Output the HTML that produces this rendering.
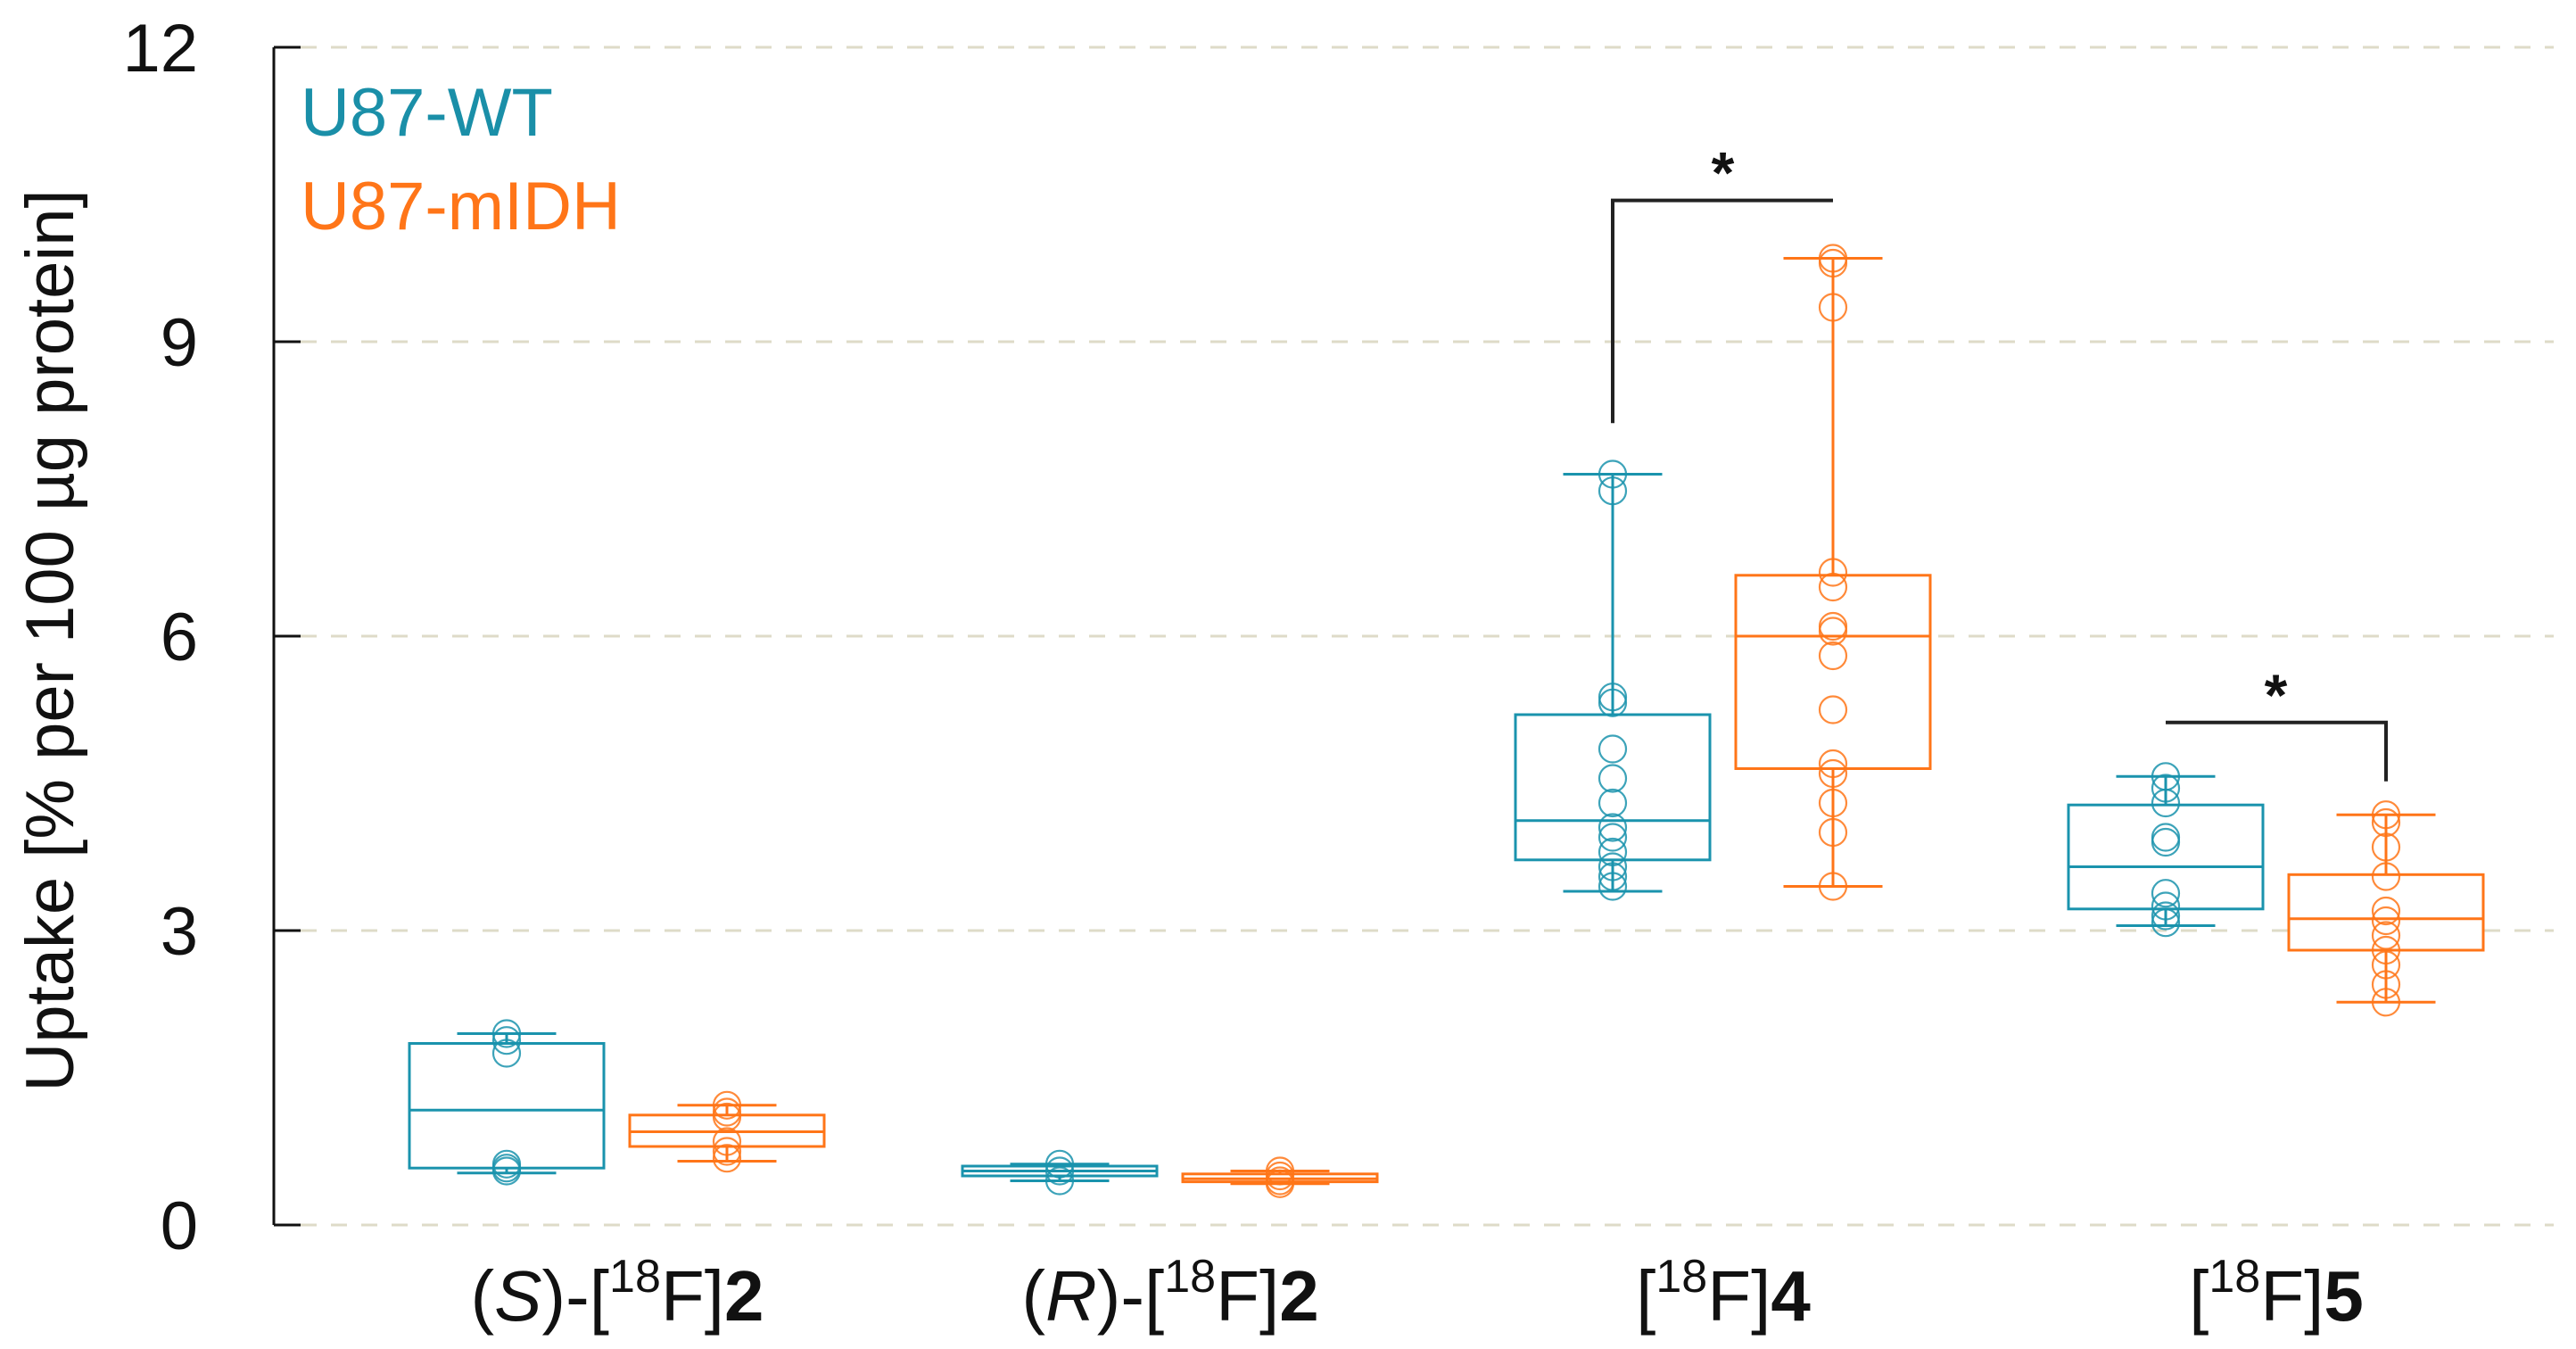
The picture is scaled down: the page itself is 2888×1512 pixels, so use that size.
<!DOCTYPE html>
<html><head><meta charset="utf-8"><style>
html,body{margin:0;padding:0;background:#fff}
svg{display:block}
text{font-family:"Liberation Sans",sans-serif}
</style></head><body>
<svg id="chart" width="2888" height="1512" viewBox="0 0 2888 1512" xmlns="http://www.w3.org/2000/svg">
<g id="grid"></g>
<g id="marks"></g>
<g id="axes"></g>
<text transform="translate(82,718) rotate(-90)" text-anchor="middle" font-size="76" fill="#111">Uptake [% per 100 µg protein]</text>
<text x="337" y="152" font-size="76" fill="#1a8fa8">U87-WT</text>
<text x="337" y="257" font-size="76" fill="#ff7518">U87-mIDH</text>
</svg>
<script>
const categories = ["S2","R2","F4","F5"];
const groupNames = ["U87-WT","U87-mIDH"];
const yTicks = [0,3,6,9,12];
// box stats per group: [whiskerLow, q1, median, q3, whiskerHigh]
const wtStats = [[0.53,0.58,1.17,1.85,1.95],[0.45,0.5,0.55,0.6,0.62],[3.4,3.72,4.12,5.2,7.65],[3.05,3.22,3.65,4.28,4.57]];
const midhStats = [[0.65,0.8,0.95,1.12,1.22],[0.42,0.44,0.47,0.52,0.55],[3.45,4.65,6.0,6.62,9.85],[2.27,2.8,3.12,3.57,4.18]];
const wtPoints = [[1.95,1.88,1.75,0.62,0.58,0.55],[0.62,0.55,0.45],[7.65,7.48,5.38,5.32,4.85,4.55,4.3,4.05,3.95,3.8,3.65,3.55,3.45],[4.57,4.45,4.3,3.95,3.9,3.38,3.25,3.15,3.08]];
const midhPoints = [[1.22,1.15,1.1,0.85,0.75,0.68],[0.55,0.5,0.45,0.42],[9.85,9.8,9.35,6.65,6.5,6.1,6.05,5.8,5.25,4.7,4.6,4.3,4.0,3.45],[4.18,4.1,3.85,3.55,3.2,3.1,2.95,2.8,2.65,2.45,2.27]];
// significance brackets: [categoryIndex, bracketTop, wtEnd, midhEnd]
const sigBrackets = [[2,10.44,8.17,10.44],[3,5.12,5.12,4.52]];

const NS="http://www.w3.org/2000/svg";
const X0=307, XR=2863, Y0=1373, Y12=53;
const y = v => Y0 - (v/12)*(Y0-Y12);
const catCenter = i => 692 + i*620;
const groupX = (i,g) => catCenter(i) + (g===0 ? -124 : 123);
const colors=["#1a93ad","#ff7518"];
function el(tag,attrs,parent){const e=document.createElementNS(NS,tag);for(const k in attrs)e.setAttribute(k,attrs[k]);parent.appendChild(e);return e;}
const grid=document.getElementById('grid'), marks=document.getElementById('marks'), axes=document.getElementById('axes');

yTicks.forEach(t=>{
  const l=el('line',{x1:X0+30,x2:XR,y1:y(t),y2:y(t),stroke:'#dedbc8','stroke-width':3,'stroke-dasharray':'18 16'},grid);
  
  
  const tk=el('line',{x1:X0,x2:X0+30,y1:y(t),y2:y(t),stroke:'#111','stroke-width':3},axes);
  
  
  const tx=el('text',{x:222,y:y(t)+27,'text-anchor':'end','font-size':76,fill:'#111'},axes);
  tx.textContent=t;
  
  
});
const ax=el('line',{x1:X0,x2:X0,y1:Y12,y2:Y0,stroke:'#111','stroke-width':3},axes);



const labelsHtml=[
 ['(','<tspan font-style="italic">S</tspan>',')-[','18','F]','2'],
 ['(','<tspan font-style="italic">R</tspan>',')-[','18','F]','2'],
 ['','','[','18','F]','4'],
 ['','','[','18','F]','5']];
labelsHtml.forEach((p,i)=>{
  const t=el('text',{x:catCenter(i),y:1480,'text-anchor':'middle','font-size':80,fill:'#111'},axes);
  t.innerHTML=p[0]+p[1]+p[2]+'<tspan font-size="52" dy="-32">'+p[3]+'</tspan><tspan dy="32">'+p[4]+'</tspan><tspan font-weight="bold">'+p[5]+'</tspan>';
  
  
});

const BW=218, CW=111;
[wtStats,midhStats].forEach((stats,g)=>{
  const pts = g===0?wtPoints:midhPoints;
  stats.forEach((s,i)=>{
    const cx=groupX(i,g), c=colors[g];
    const grp=el('g',{fill:'none',stroke:c,'stroke-width':3},marks);
    
    
    el('line',{x1:cx,x2:cx,y1:y(s[0]),y2:y(s[4])},grp);
    el('line',{x1:cx-CW/2,x2:cx+CW/2,y1:y(s[0]),y2:y(s[0])},grp);
    el('line',{x1:cx-CW/2,x2:cx+CW/2,y1:y(s[4]),y2:y(s[4])},grp);
    el('rect',{x:cx-BW/2,y:y(s[3]),width:BW,height:y(s[1])-y(s[3]),fill:'#fff'},grp);
    el('line',{x1:cx-BW/2,x2:cx+BW/2,y1:y(s[2]),y2:y(s[2])},grp);
    pts[i].forEach((v,k)=>{
      const c2=el('circle',{cx:cx,cy:y(v),r:15,'stroke-width':2.2,fill:'none',stroke:c,opacity:0.85},marks);
      
      
    });
  });
});

sigBrackets.forEach((b,k)=>{
  const x1=groupX(b[0],0), x2=groupX(b[0],1);
  const p=el('path',{d:`M${x1},${y(b[2])} L${x1},${y(b[1])} L${x2},${y(b[1])} L${x2},${y(b[3])}`,fill:'none',stroke:'#222','stroke-width':4},marks);
  
  
  const s=el('text',{x:(x1+x2)/2,y:y(b[1])-8,'text-anchor':'middle','font-size':66,'font-weight':'bold',fill:'#111'},marks);
  s.textContent='*';
  
  
});
</script>
</body></html>
